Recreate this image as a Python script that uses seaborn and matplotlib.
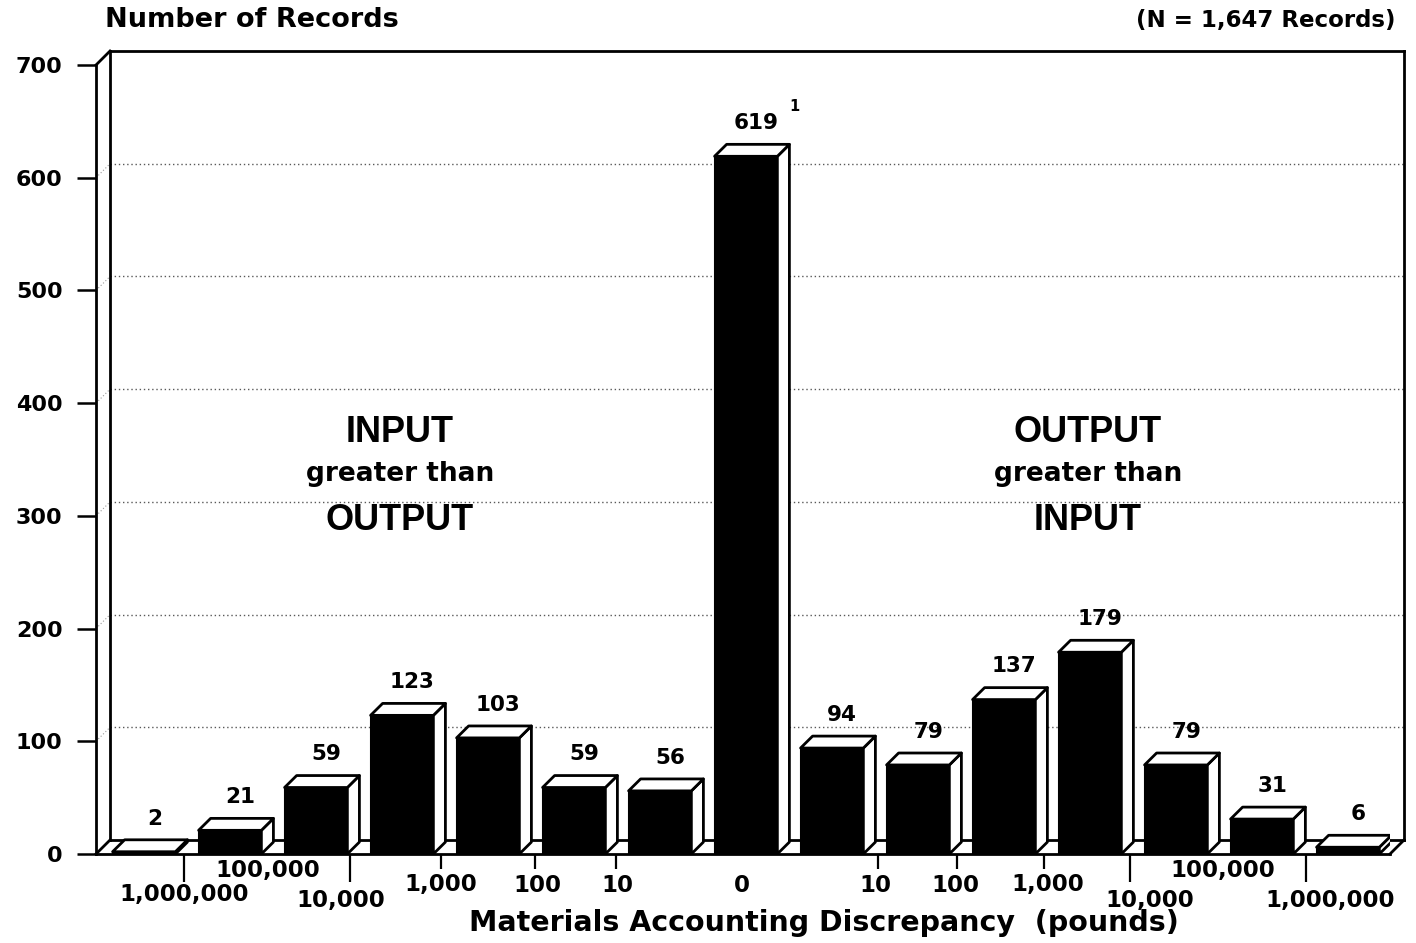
import numpy as np
import matplotlib
matplotlib.use("Agg")
import matplotlib.pyplot as plt
from matplotlib.patches import Polygon
import seaborn as sns

# Discrepancy bins, from large "input > output" through zero to large "output > input"
bins = ["in_1e6+", "in_1e5", "in_1e4", "in_1e3", "in_1e2", "in_1e1", "in_0",
        "zero",
        "out_1e1", "out_1e2", "out_1e3", "out_1e4", "out_1e5", "out_1e6", "out_1e6+"]
records = [2, 21, 59, 123, 103, 59, 56, 619, 94, 79, 137, 179, 79, 31, 6]

# Boundary tick labels along the discrepancy axis
tick_labels = ["1,000,000", "100,000", "10,000", "1,000", "100", "10", "0",
               "10", "100", "1,000", "10,000", "100,000", "1,000,000"]
tick_label_x = [0.47, 1.44, 2.29, 3.45, 4.57, 5.51, 6.95,
                8.51, 9.44, 10.51, 11.70, 12.54, 13.79]
tick_label_row = [2, 0, 3, 1, 1, 1, 1, 1, 1, 1, 3, 0, 3]
long_ticks = [0.47, 2.40, 11.47, 13.51]
short_ticks = [3.45, 4.55, 5.49, 8.53, 9.45, 10.47]

y_ticks = [0, 100, 200, 300, 400, 500, 600, 700]

sns.set_style("white")
plt.rcParams["font.family"] = ["DejaVu Sans"]
plt.rcParams.update({"text.color": "black", "xtick.color": "black",
                     "ytick.color": "black", "axes.labelcolor": "black"})

fig = plt.figure(figsize=(14.16, 9.43), dpi=100)
ax = fig.add_axes([96 / 1416, 89 / 943, 1294 / 1416, 789 / 943])

sns.barplot(x=bins, y=records, order=bins, color="black", saturation=1,
            width=0.73, edgecolor="black", linewidth=1.5, ax=ax, zorder=3)

x0, x1 = -0.558, 14.489
ax.set_xlim(x0, x1)
ax.set_ylim(0, 700)
for s in ax.spines.values():
    s.set_visible(False)

# depth of the box walls and of the bars (data units)
wdx, wdy = 0.163, 12.4
bdx, bdy = 0.14, 10.6
lw = 2.0

def seg(xs, ys, **kw):
    kw.setdefault("color", "black")
    kw.setdefault("lw", lw)
    kw.setdefault("solid_capstyle", "projecting")
    ax.plot(xs, ys, clip_on=False, **kw)

# back-wall gridlines and their traces on the side wall
for v in y_ticks[1:-1]:
    seg([x0 + wdx, x1 + wdx], [v + wdy, v + wdy], color="0.35", lw=1.0,
        ls=(0, (1, 2)), zorder=1)
    seg([x0, x0 + wdx], [v, v + wdy], color="0.6", lw=0.8, ls=(0, (1, 2)), zorder=1)

# box frame: left wall, back top edge, right edge and floor
seg([x0, x0], [0, 700], zorder=2)
seg([x0 + wdx, x0 + wdx], [wdy, 700 + wdy], zorder=2)
seg([x0, x0 + wdx], [700, 700 + wdy], zorder=2)
seg([x0 + wdx, x1 + wdx], [700 + wdy, 700 + wdy], zorder=2)
seg([x1 + wdx, x1 + wdx], [wdy, 700 + wdy], zorder=2)
seg([x0 + wdx, x1 + wdx], [wdy, wdy], zorder=2)
seg([x0, x1], [0, 0], zorder=6)
seg([x1, x1 + wdx], [0, wdy], zorder=2)
seg([x0, x0 + wdx], [0, wdy], zorder=2)

# top and side faces for each bar
for i, p in enumerate(ax.patches):
    bx0 = p.get_x()
    bx1 = bx0 + p.get_width()
    h = p.get_height()
    top = Polygon([(bx0, h), (bx0 + bdx, h + bdy), (bx1 + bdx, h + bdy), (bx1, h)],
                  closed=True, facecolor="white", edgecolor="black", lw=lw,
                  joinstyle="round", zorder=4)
    side = Polygon([(bx1, 0), (bx1 + bdx, bdy), (bx1 + bdx, h + bdy), (bx1, h)],
                   closed=True, facecolor="white", edgecolor="black", lw=lw,
                   joinstyle="round", zorder=4)
    ax.add_patch(side)
    ax.add_patch(top)
    ax.text(bx0 + p.get_width() / 2 + bdx / 2 + 0.05, h + bdy + 10, f"{records[i]:d}",
            ha="center", va="bottom", fontsize=15.5, fontweight="bold", zorder=7)
    if bins[i] == "zero":
        ax.text(bx1 + 0.2, h + bdy + 27, "1", ha="center", va="bottom",
                fontsize=10.5, fontweight="bold")

# y axis
ax.set_yticks(y_ticks)
ax.set_yticklabels([str(v) for v in y_ticks], fontsize=16, fontweight="bold")
ax.tick_params(axis="y", direction="out", length=14, width=1.8, pad=10,
               color="black", left=True)

# x axis: boundary ticks with staggered labels
ax.set_xticks(long_ticks)
ax.set_xticks(short_ticks, minor=True)
ax.set_xticklabels([""] * len(long_ticks))
ax.tick_params(axis="x", which="major", direction="out", length=20, width=1.6,
               color="black", bottom=True)
ax.tick_params(axis="x", which="minor", direction="out", length=11, width=1.6,
               color="black", bottom=True)
row_offsets = [-16, -31, -40, -46]
for lx, lab, r in zip(tick_label_x, tick_labels, tick_label_row):
    ax.annotate(lab, xy=(lx, 0), xycoords="data", xytext=(0, row_offsets[r]),
                textcoords="offset pixels", ha="center", va="center",
                fontsize=16.5, fontweight="bold", annotation_clip=False)

ax.set_xlabel("")
ax.set_ylabel("")
fig.text(824 / 1416, 1 - 923 / 943, "Materials Accounting Discrepancy  (pounds)",
         ha="center", va="center", fontsize=20.5, fontweight="bold")
fig.text(105 / 1416, 1 - 20 / 943, "Number of Records", ha="left", va="center",
         fontsize=19.5, fontweight="bold")
fig.text(1395 / 1416, 1 - 20 / 943, "(N = 1,647 Records)", ha="right", va="center",
         fontsize=16.5, fontweight="bold")

# region annotations
for cx, words in [(2.977, ("INPUT", "greater than", "OUTPUT")),
                  (10.977, ("OUTPUT", "greater than", "INPUT"))]:
    ax.text(cx, 374, words[0], ha="center", va="center", fontsize=26,
            fontweight="bold", family="Liberation Sans")
    ax.text(cx, 337, words[1], ha="center", va="center", fontsize=19,
            fontweight="bold")
    ax.text(cx, 296, words[2], ha="center", va="center", fontsize=26,
            fontweight="bold", family="Liberation Sans")

fig.savefig("out.png", dpi=100, facecolor="white")
